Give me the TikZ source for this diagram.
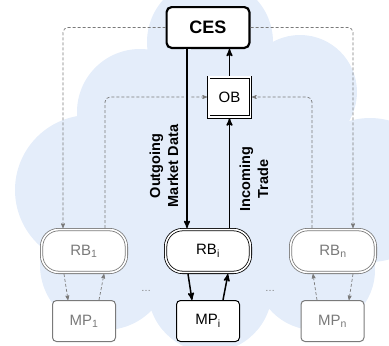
\documentclass[tikz,border=0pt]{standalone}
\usepackage{fontspec}
\setmainfont{Liberation Sans}
\usetikzlibrary{arrows}
\definecolor{cloudblue}{HTML}{E4EDFA}
\definecolor{softgray}{HTML}{7A7A7A}

\begin{document}
\begin{tikzpicture}[x=1pt,y=-1pt,>=stealth',
  box/.style={draw,fill=white,rounded corners=4pt,inner sep=0pt,font=\fontsize{15}{18}\selectfont},
  rbbox/.style={box,rounded corners=17pt,double,double distance=1.6pt,line width=0.8pt,outer sep=1.6pt,minimum width=84.8pt,minimum height=42.8pt},
  mpbox/.style={box,line width=1pt,minimum width=63pt,minimum height=41pt},
  faded/.style={draw=softgray,text=softgray},
  link/.style={draw=softgray,densely dashed,line width=0.7pt},
  flow/.style={line width=1.5pt},
  halo/.style={preaction={draw=cloudblue,line width=7pt}},
  lbl/.style={rotate=90,align=center,font=\fontsize{14.5}{18}\bfseries\selectfont}]
\useasboundingbox (0,0) rectangle (389,346);

\begin{scope}
\clip (0,0) rectangle (389,346);
\fill[cloudblue] (210,42) circle (63pt) (300,92) circle (57pt) (140,112) circle (63pt)
  (90,190) circle (75pt) (370,190) circle (72pt) (105,265) circle (65pt)
  (210,290) circle (62pt) (315,270) circle (60pt) (210,190) ellipse (150pt and 115pt);
\end{scope}

\node[box,line width=2.2pt,rounded corners=5pt,minimum width=82.8pt,minimum height=40.8pt,font=\fontsize{18}{20}\bfseries\selectfont] (ces) at (208,27.5) {CES};
\node[box,sharp corners,double,double distance=1.6pt,line width=0.9pt,outer sep=1.7pt,minimum width=41.6pt,minimum height=39.6pt] (ob) at (229.5,97) {OB};

\node[rbbox,faded] (rb1) at (84,251) {RB\textsubscript{1}};
\node[rbbox] (rbi) at (208,251) {RB\textsubscript{i}};
\node[rbbox,faded] (rbn) at (333,251) {RB\textsubscript{n}};
\node[mpbox,faded] (mp1) at (84,321) {MP\textsubscript{1}};
\node[mpbox] (mpi) at (208,321) {MP\textsubscript{i}};
\node[mpbox,faded] (mpn) at (332.5,321) {MP\textsubscript{n}};
\node[text=softgray] (dotsl) at (146,291) {\dots};
\node[text=softgray] (dotsr) at (270,291) {\dots};

\draw[link,->,rounded corners=5pt] (ces.west) -| ([xshift=-21pt]rb1.north);
\draw[link,->,rounded corners=5pt] (ces.east) -| ([xshift=20pt]rbn.north);
\draw[link,->,rounded corners=5pt] ([xshift=21pt]rb1.north) |- (ob.west);
\draw[link,->,rounded corners=5pt] ([xshift=-21pt]rbn.north) |- (ob.east);

\draw[flow,halo,->] ([xshift=-21pt]ces.south) -- ([xshift=-21pt]rbi.north);
\draw[flow,->] ([xshift=21.5pt]rbi.north) -- (ob.south);
\draw[flow,->] (ob.north) -- ([xshift=21.5pt]ces.south);

\draw[flow,->] ([xshift=-20pt]rbi.south) -- ([xshift=-16pt]mpi.north);
\draw[flow,->] ([xshift=15pt]mpi.north) -- ([xshift=20pt]rbi.south);
\draw[link,->] ([xshift=-20pt]rb1.south) -- ([xshift=-16pt]mp1.north);
\draw[link,->] ([xshift=15pt]mp1.north) -- ([xshift=20pt]rb1.south);
\draw[link,->] ([xshift=-15.5pt]mpn.north) -- ([xshift=-20pt]rbn.south);
\draw[link,->] ([xshift=20pt]rbn.south) -- ([xshift=16.5pt]mpn.north);

\node[lbl] (outlbl) at (164,166) {Outgoing\\Market Data};
\node[lbl] (inlbl) at (254,179) {Incoming\\Trade};
\end{tikzpicture}
\end{document}
